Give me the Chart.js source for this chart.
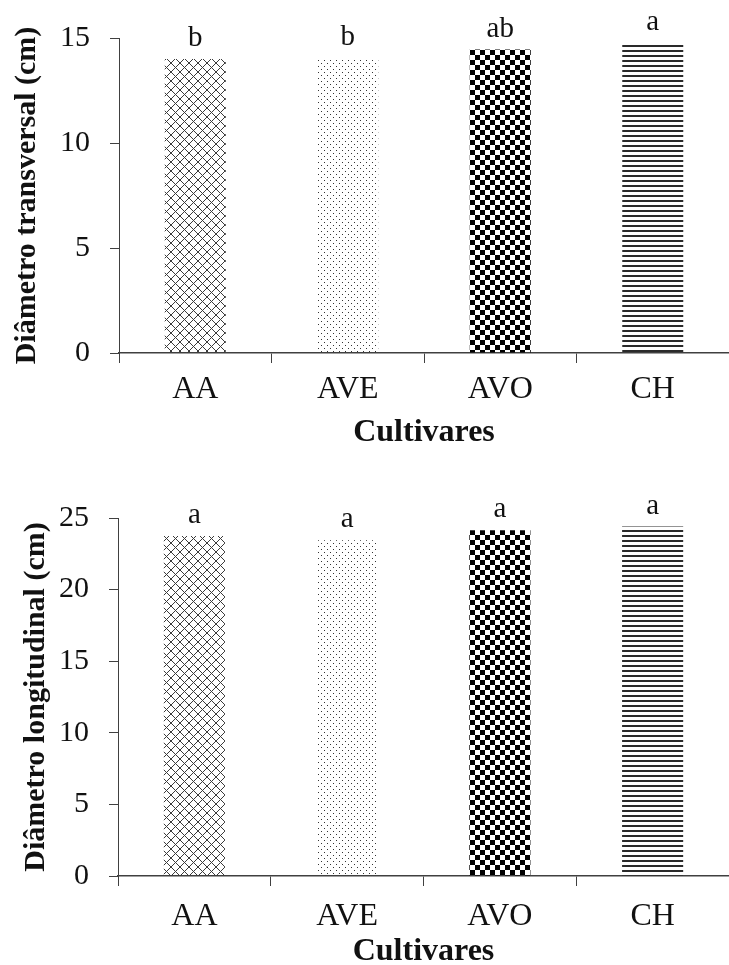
<!DOCTYPE html>
<html>
<head>
<meta charset="utf-8">
<script src="https://cdn.jsdelivr.net/npm/chart.js@4"></script>
<style>
  html, body { margin: 0; padding: 0; background: #fff; }
  .box { position: absolute; left: 0; width: 729px; }
  #boxTop { top: 0; height: 480px; }
  #boxBottom { top: 480px; height: 485px; }
</style>
</head>
<body>
<div class="box" id="boxTop"><canvas id="chartTransversal"></canvas></div>
<div class="box" id="boxBottom"><canvas id="chartLongitudinal"></canvas></div>
<script>
// Dados
const cultivares = ['AA', 'AVE', 'AVO', 'CH'];
const diamTransversal = [14.0, 14.03, 14.45, 14.75];
const letrasTransversal = ['b', 'b', 'ab', 'a'];
const diamLongitudinal = [23.75, 23.45, 24.15, 24.4];
const letrasLongitudinal = ['a', 'a', 'a', 'a'];

const serif = "'Liberation Serif', 'Times New Roman', serif";
const axisColor = '#404040';

// Padroes de preenchimento das barras
function tile(w, h, draw) {
  const c = document.createElement('canvas');
  c.width = w; c.height = h;
  const g = c.getContext('2d');
  draw(g);
  return g.createPattern(c, 'repeat');
}

function padraoXadrezDiagonal() {
  return tile(9, 9, g => {
    g.strokeStyle = '#3a3a3a';
    g.lineWidth = 1;
    g.beginPath();
    g.moveTo(-1, -1); g.lineTo(10, 10);
    g.moveTo(-1, 10); g.lineTo(10, -1);
    g.stroke();
  });
}

function padraoPontos() {
  return tile(6, 6, g => {
    g.fillStyle = '#333';
    g.fillRect(0, 0, 1, 1);
    g.fillRect(3, 3, 1, 1);
  });
}

function padraoTabuleiro() {
  return tile(10, 10, g => {
    g.fillStyle = '#000';
    g.fillRect(0, 0, 5, 5);
    g.fillRect(5, 5, 5, 5);
  });
}

function padraoLinhas() {
  return tile(5, 5, g => {
    g.fillStyle = '#2a2a2a';
    g.fillRect(0, 0, 5, 2);
  });
}

const padroes = [padraoXadrezDiagonal(), padraoPontos(), padraoTabuleiro(), padraoLinhas()];

// Letras de significancia acima das barras
const letrasPlugin = {
  id: 'letras',
  afterDatasetsDraw(chart, args, opts) {
    const ctx = chart.ctx;
    const meta = chart.getDatasetMeta(0);
    ctx.save();
    ctx.font = '29px ' + serif;
    ctx.fillStyle = '#111';
    ctx.textAlign = 'center';
    ctx.textBaseline = 'alphabetic';
    meta.data.forEach((bar, i) => {
      ctx.fillText(opts.labels[i], bar.x, bar.y - 13);
    });
    ctx.restore();
  }
};

function criaGrafico(id, valores, letras, yMax, titulo, cfg) {
  const ctx = document.getElementById(id).getContext('2d');
  return new Chart(ctx, {
    type: 'bar',
    data: {
      labels: cultivares,
      datasets: [{
        data: valores,
        backgroundColor: padroes,
        borderWidth: 0,
        barPercentage: 0.4,
        categoryPercentage: 1.0
      }]
    },
    options: {
      responsive: true,
      maintainAspectRatio: false,
      animation: false,
      layout: { padding: { top: cfg.padTop, right: 0, left: 0, bottom: 0 } },
      plugins: {
        legend: { display: false },
        tooltip: { enabled: false },
        letras: { labels: letras }
      },
      scales: {
        x: {
          offset: true,
          grid: {
            display: true,
            drawOnChartArea: false,
            offset: true,
            tickLength: 10,
            color: axisColor,
            lineWidth: 1
          },
          border: { display: true, color: axisColor, width: 1.5 },
          ticks: {
            color: '#111',
            font: { family: serif, size: 32 },
            padding: cfg.xTickPad,
            maxRotation: 0
          },
          title: {
            display: true,
            text: 'Cultivares',
            color: '#111',
            font: { family: serif, size: 32, weight: 'bold', lineHeight: 0.85 },
            padding: { top: 0, bottom: cfg.xTitlePad }
          },
          afterFit(scale) { scale.height = cfg.xHeight; }
        },
        y: {
          min: 0,
          max: yMax,
          grid: {
            display: true,
            drawOnChartArea: false,
            tickLength: 9,
            color: axisColor,
            lineWidth: 1
          },
          border: { display: true, color: axisColor, width: 1 },
          ticks: {
            stepSize: 5,
            color: '#111',
            font: { family: serif, size: 30 },
            padding: 20
          },
          title: {
            display: true,
            text: titulo,
            color: '#111',
            font: { family: serif, size: 30, weight: 'bold', lineHeight: 1.2 },
            padding: { top: cfg.yTitlePad, bottom: 0 }
          },
          afterFit(scale) { scale.width = cfg.yWidth; }
        }
      }
    },
    plugins: [letrasPlugin]
  });
}

criaGrafico('chartTransversal', diamTransversal, letrasTransversal, 15,
  'Diâmetro transversal (cm)',
  { padTop: 33, xHeight: 127, xTickPad: 7, xTitlePad: 34, yWidth: 119, yTitlePad: 9 });

criaGrafico('chartLongitudinal', diamLongitudinal, letrasLongitudinal, 25,
  'Diâmetro longitudinal (cm)',
  { padTop: 34, xHeight: 89, xTickPad: 11, xTitlePad: 0, yWidth: 118, yTitlePad: 18 });
</script>
</body>
</html>
